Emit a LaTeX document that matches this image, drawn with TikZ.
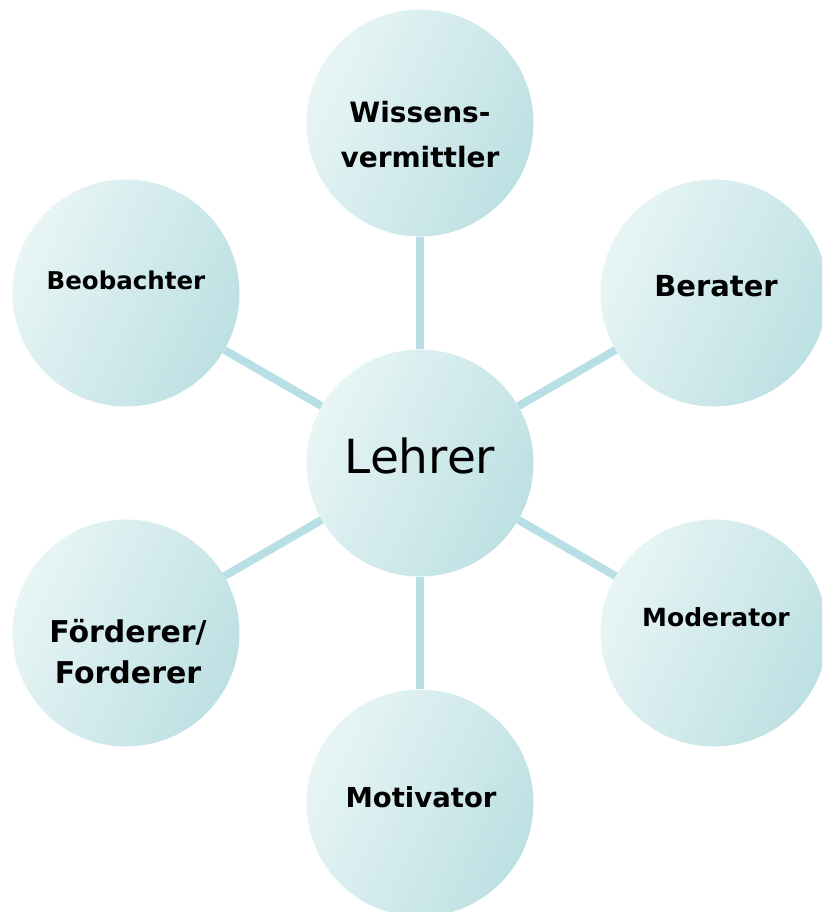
\documentclass[tikz,border=0pt]{standalone}
\usepackage{fontspec}
\setmainfont{DejaVu Sans}
\usepackage{tikz}
\definecolor{rolelight}{HTML}{E8F5F5}
\definecolor{roledark}{HTML}{BDE0E3}
\definecolor{rolelink}{HTML}{B8E0E4}

\tikzset{
  rolecircle/.style={circle, minimum size=227pt, inner sep=0pt,
    left color=rolelight, right color=roledark, shading angle=65},
  roletext/.style={font=\bfseries\fontsize{28}{45}\selectfont, align=center},
  rolelink/.style={draw=rolelink, line width=8pt}
}

\begin{document}
\begin{tikzpicture}[x=1pt, y=-1pt]
\useasboundingbox (0,0) rectangle (822,912);
\clip (0,0) rectangle (822,912);
% circles
\node[rolecircle] (lehrer) at (420,463) {};
\node[rolecircle] (wissen) at (420,123) {};
\node[rolecircle] (berater) at (714,293) {};
\node[rolecircle] (moderator) at (714,633) {};
\node[rolecircle] (motivator) at (420,803) {};
\node[rolecircle] (foerderer) at (126,633) {};
\node[rolecircle] (beobachter) at (126,293) {};
% links
\foreach \r in {wissen, berater, moderator, motivator, foerderer, beobachter}
  \draw[rolelink] (lehrer) -- (\r);
% texts
\node[font=\fontsize{47}{50}\selectfont] (lehrer-t) at (420,456) {Lehrer};
\node[roletext] (wissen-t) at (420,135) {Wissens-\\vermittler};
\node[roletext, font=\bfseries\fontsize{29}{30}\selectfont] (berater-t) at (716,286) {Berater};
\node[roletext, font=\bfseries\fontsize{24.5}{30}\selectfont] (beobachter-t) at (126,280) {Beobachter};
\node[roletext, font=\bfseries\fontsize{25}{30}\selectfont] (moderator-t) at (716,617) {Moderator};
\node[roletext, font=\bfseries\fontsize{27.5}{30}\selectfont] (motivator-t) at (421,797) {Motivator};
\node[roletext, font=\bfseries\fontsize{30}{41}\selectfont] (foerderer-t) at (128,652) {Förderer/\\Forderer};
\end{tikzpicture}
\end{document}
